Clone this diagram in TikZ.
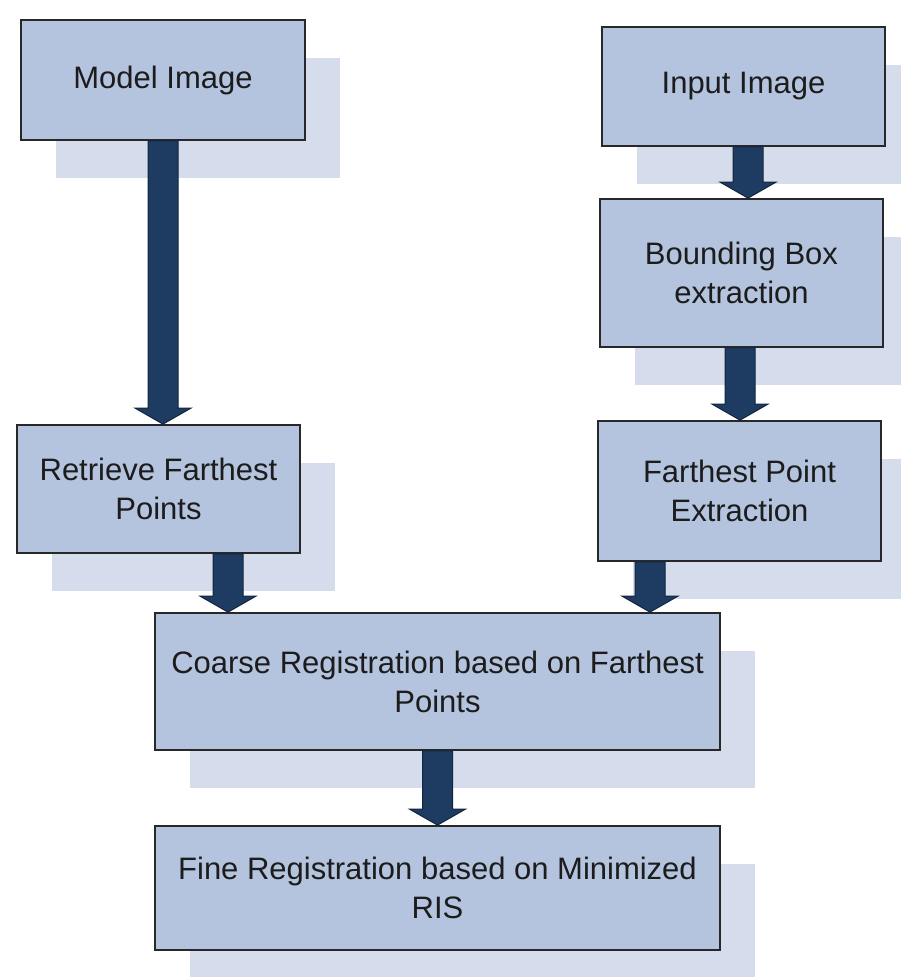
\documentclass[tikz,border=0pt]{standalone}
\usepackage{fontspec}
\setmainfont{Liberation Sans}
\usetikzlibrary{calc,shadows}
\definecolor{boxc}{RGB}{180,195,222}
\definecolor{shadc}{RGB}{213,221,236}
\definecolor{arrc}{RGB}{30,60,98}
\definecolor{arredge}{RGB}{20,38,62}
\definecolor{edgec}{RGB}{40,40,40}
\definecolor{txtc}{RGB}{28,28,28}
\newcommand{\blockarrow}[2]{%
  \filldraw[fill=arrc, draw=arredge, line width=1pt, line join=miter]
    ($(#1)+(-15,0)$) -- ($(#2)+(-15,-16)$) -- ($(#2)+(-28,-16)$) -- (#2)
    -- ($(#2)+(28,-16)$) -- ($(#2)+(15,-16)$) -- ($(#1)+(15,0)$) -- cycle;}
\begin{document}
\begin{tikzpicture}[x=1pt,y=-1pt,
  stepbox/.style={draw=edgec, line width=1.8pt, fill=boxc, inner sep=0pt,
    align=center, text=txtc, font=\fontsize{31}{39}\selectfont,
    drop shadow={shadow xshift=35pt, shadow yshift=-38pt, fill=shadc, opacity=1, draw=none}},
]
\useasboundingbox (0,0) rectangle (901,977);
\fill[white] (0,0) rectangle (901,977);

\node[stepbox, minimum width=284pt, minimum height=120pt] (model) at (163,80) {Model Image};
\node[stepbox, minimum width=283pt, minimum height=119pt] (input) at (743.5,86.5) {Input Image};
\node[stepbox, minimum width=283pt, minimum height=148pt] (bbox) at (741.5,273) {Bounding Box\\extraction};
\node[stepbox, minimum width=283pt, minimum height=128pt] (rfp) at (158.5,489) {Retrieve Farthest\\Points};
\node[stepbox, minimum width=283pt, minimum height=140pt] (fpe) at (739.5,491) {Farthest Point\\Extraction};
\node[stepbox, minimum width=565pt, minimum height=137pt] (coarse) at (437.5,681.5) {Coarse Registration based on Farthest\\Points};
\node[stepbox, minimum width=565pt, minimum height=124pt] (fine) at (437.5,888) {Fine Registration based on Minimized\\RIS};

\coordinate (e1) at (model.south |- rfp.north);
\path (input.south) ++(4.5,0) coordinate (s2);
\coordinate (e2) at (s2 |- bbox.north);
\path (bbox.south) ++(-1.5,0) coordinate (s3);
\coordinate (e3) at (s3 |- fpe.north);
\path (rfp.south) ++(69.5,0) coordinate (s4);
\coordinate (e4) at (s4 |- coarse.north);
\path (fpe.south) ++(-89.5,0) coordinate (s5);
\coordinate (e5) at (s5 |- coarse.north);
\coordinate (e6) at (coarse.south |- fine.north);

\blockarrow{model.south}{e1}
\blockarrow{s2}{e2}
\blockarrow{s3}{e3}
\blockarrow{s4}{e4}
\blockarrow{s5}{e5}
\blockarrow{coarse.south}{e6}
\end{tikzpicture}
\end{document}
